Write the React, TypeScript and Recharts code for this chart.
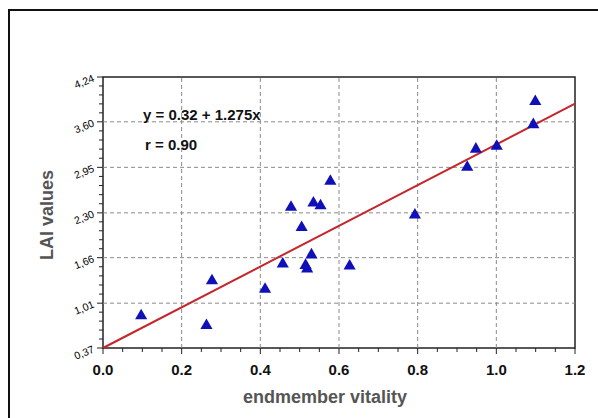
import {
  ScatterChart,
  Scatter,
  XAxis,
  YAxis,
  ZAxis,
  ReferenceLine,
  ReferenceArea,
} from "recharts";

const FONT = "'Liberation Sans', Arial, sans-serif";

// measured points: endmember vitality vs LAI
const vitality = [
  0.097, 0.263, 0.277, 0.412, 0.457, 0.478, 0.505, 0.515, 0.519, 0.53, 0.535,
  0.553, 0.578, 0.627, 0.793, 0.926, 0.948, 1.001, 1.094, 1.099,
];
const lai = [
  0.83, 0.69, 1.33, 1.21, 1.57, 2.38, 2.09, 1.55, 1.5, 1.7, 2.44, 2.4, 2.75,
  1.54, 2.27, 2.95, 3.21, 3.25, 3.56, 3.89,
];

// regression line end points as drawn
const fitX = [0, 1.2];
const fitY = [0.37, 3.86];

const xTicks = [0, 0.2, 0.4, 0.6, 0.8, 1.0, 1.2];
const yTicks = [0.37, 1.01, 1.66, 2.3, 2.95, 3.6, 4.24];
const yTickLabels = ["0,37", "1,01", "1,66", "2,30", "2,95", "3,60", "4,24"];

const points = vitality.map((x, i) => ({ x, y: lai[i] }));
const fitLine = fitX.map((x, i) => ({ x, y: fitY[i] }));

// minor ticks in between the major ones
function withMinor(major: number[], parts: number) {
  const out: number[] = [];
  major.forEach((v, i) => {
    out.push(v);
    if (i < major.length - 1) {
      const step = (major[i + 1] - v) / parts;
      for (let k = 1; k < parts; k++) out.push(v + step * k);
    }
  });
  return out;
}
const xAll = withMinor(xTicks, 4);
const yAll = withMinor(yTicks, 5);

const isMajor = (list: number[], v: number) =>
  list.findIndex((t) => Math.abs(t - v) < 1e-6);

function XTick(props: any) {
  const { x, y, payload } = props;
  const idx = isMajor(xTicks, payload.value);
  return (
    <g>
      <line x1={x} x2={x} y1={y} y2={y + (idx >= 0 ? 6 : 4)} stroke="#222" />
      {idx >= 0 && (
        <text
          x={x}
          y={y + 27}
          textAnchor="middle"
          fontSize={15}
          fontWeight="bold"
          fontFamily={FONT}
          fill="#111"
        >
          {xTicks[idx].toFixed(1)}
        </text>
      )}
    </g>
  );
}

function YTick(props: any) {
  const { x, y, payload } = props;
  const idx = isMajor(yTicks, payload.value);
  return (
    <g>
      <line x1={x - (idx >= 0 ? 6 : 4)} x2={x} y1={y} y2={y} stroke="#222" />
      {idx >= 0 && (
        <text
          x={x - 8}
          y={y + 4}
          textAnchor="end"
          fontSize={10.5}
          fontFamily={FONT}
          fill="#000"
          transform={`rotate(-22, ${x - 8}, ${y + 4})`}
        >
          {yTickLabels[idx]}
        </text>
      )}
    </g>
  );
}

const noDot = () => <g />;

export default function App() {
  return (
    <div style={{ position: "absolute", left: 0, top: 0, width: 598, height: 418, overflow: "hidden", background: "#fff", fontFamily: FONT }}>
      <div
        style={{
          position: "absolute",
          left: 8,
          top: 9,
          width: 620,
          height: 440,
          borderLeft: "2px solid #111",
          borderTop: "2px solid #111",
        }}
      />
      <ScatterChart
        width={598}
        height={418}
        margin={{ top: 77, right: 23, bottom: 40, left: 43 }}
      >
        <XAxis
          type="number"
          dataKey="x"
          domain={[0, 1.2]}
          ticks={xAll}
          interval={0}
          axisLine={false}
          tickLine={false}
          tickSize={0}
          tickMargin={0}
          height={30}
          tick={(p: any) => <XTick {...p} />}
        />
        <YAxis
          type="number"
          dataKey="y"
          domain={[0.37, 4.24]}
          ticks={yAll}
          interval={0}
          axisLine={false}
          tickLine={false}
          tickSize={0}
          tickMargin={0}
          width={60}
          tick={(p: any) => <YTick {...p} />}
        />
        <ZAxis range={[22, 22]} />
        {xTicks.slice(1, -1).map((v) => (
          <ReferenceLine key={"gx" + v} x={v} stroke="#8a8a8a" strokeDasharray="4 3" />
        ))}
        {yTicks.slice(1, -1).map((v) => (
          <ReferenceLine key={"gy" + v} y={v} stroke="#8a8a8a" strokeDasharray="4 3" />
        ))}
        <ReferenceArea
          x1={0}
          x2={1.2}
          y1={0.37}
          y2={4.24}
          fill="none"
          stroke="#222"
          strokeWidth={1.5}
        />
        <Scatter
          data={fitLine}
          line={{ stroke: "#c4262b", strokeWidth: 2 }}
          shape={noDot}
          isAnimationActive={false}
        />
        <Scatter
          data={points}
          shape="triangle"
          fill="#1010b8"
          isAnimationActive={false}
        />
      </ScatterChart>
      <div style={{ position: "absolute", left: 143, top: 107, fontSize: 15, lineHeight: 1, fontWeight: "bold", color: "#111", whiteSpace: "nowrap" }}>
        y = 0.32 + 1.275x
      </div>
      <div style={{ position: "absolute", left: 145, top: 137, fontSize: 15, lineHeight: 1, fontWeight: "bold", color: "#111", whiteSpace: "nowrap" }}>
        r = 0.90
      </div>
      <div style={{ position: "absolute", left: 325, top: 388, transform: "translateX(-50%)", fontSize: 18, lineHeight: 1, fontWeight: "bold", color: "#555", whiteSpace: "nowrap" }}>
        endmember vitality
      </div>
      <div style={{ position: "absolute", left: 47, top: 215, transform: "translate(-50%, -50%) rotate(-90deg)", fontSize: 18, lineHeight: 1, fontWeight: "bold", color: "#555", whiteSpace: "nowrap" }}>
        LAI values
      </div>
    </div>
  );
}
